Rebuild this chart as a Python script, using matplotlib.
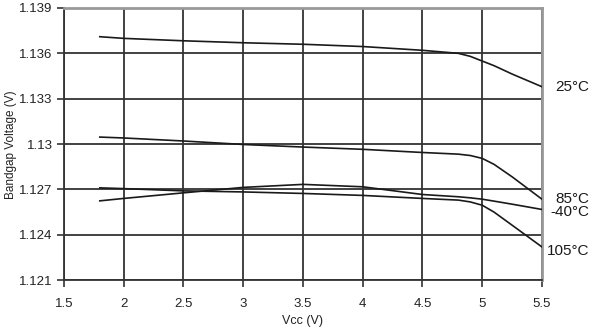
import numpy as np
import matplotlib.pyplot as plt

plt.rcParams['font.family'] = ['Liberation Sans', 'DejaVu Sans']

# supply voltage sweep (V)
vcc = [1.8, 2.0, 2.5, 3.0, 3.5, 4.0, 4.5, 4.8, 4.9, 5.0, 5.1, 5.25, 5.5]

# bandgap output (V) per temperature
vbg_25 = [1.13710, 1.13699, 1.13683, 1.13670, 1.13660, 1.13645, 1.13620, 1.13600, 1.13580,
          1.13549, 1.13518, 1.13463, 1.13379]
vbg_85 = [1.13046, 1.13040, 1.13020, 1.12997, 1.12980, 1.12965, 1.12944, 1.12933, 1.12924,
          1.12905, 1.12865, 1.12783, 1.12635]
vbg_m40 = [1.12624, 1.12640, 1.12677, 1.12713, 1.12733, 1.12717, 1.12666, 1.12651, 1.12644,
           1.12635, 1.12622, 1.12602, 1.12567]
vbg_105 = [1.12710, 1.12705, 1.12690, 1.12683, 1.12673, 1.12660, 1.12640, 1.12629, 1.12617,
           1.12595, 1.12549, 1.12463, 1.12319]

series = [(vbg_25, '25°C'), (vbg_85, '85°C'), (vbg_m40, '-40°C'), (vbg_105, '105°C')]
# label heights, nudged so the stacked labels don't collide
label_y = {'25°C': 1.13380, '85°C': 1.12637, '-40°C': 1.12549, '105°C': 1.12291}

fig = plt.figure(figsize=(5.92, 3.33), dpi=100)
ax = fig.add_axes([0.108, 0.159, 0.8075, 0.817])

for vals, name in series:
    ax.plot(vcc, vals, color='#1a1a1a', lw=1.2, zorder=3)
    ax.annotate(name, xy=(5.5, label_y[name]), xycoords='data',
                xytext=(47, 0), textcoords='offset pixels',
                ha='right', va='center', fontsize=11, color='#1a1a1a',
                annotation_clip=False)

ax.set_xlim(1.5, 5.5)
ax.set_ylim(1.121, 1.139)
ax.set_xticks(np.arange(1.5, 5.51, 0.5))
ax.set_xticklabels(['1.5', '2', '2.5', '3', '3.5', '4', '4.5', '5', '5.5'])
ax.set_yticks([1.121, 1.124, 1.127, 1.13, 1.133, 1.136, 1.139])
ax.set_yticklabels(['1.121', '1.124', '1.127', '1.13', '1.133', '1.136', '1.139'])

ax.grid(True, color='#333333', lw=1.3, zorder=1)
ax.tick_params(direction='out', length=5, width=1.2, color='#333333',
               labelsize=9.5, labelcolor='#222222')
ax.tick_params(axis='x', pad=8)
ax.tick_params(axis='y', pad=3)

for side in ['top', 'right']:
    ax.spines[side].set_color('#999999')
    ax.spines[side].set_linewidth(2)
for side in ['left', 'bottom']:
    ax.spines[side].set_color('#333333')
    ax.spines[side].set_linewidth(1.3)

ax.set_xlabel('Vcc (V)', fontsize=9, color='#222222')
ax.set_ylabel('Bandgap Voltage (V)', fontsize=8.5, color='#222222')
ax.xaxis.set_label_coords(0.5, -0.13)
ax.yaxis.set_label_coords(-0.098, 0.496)

fig.savefig('out.png', dpi=100)
